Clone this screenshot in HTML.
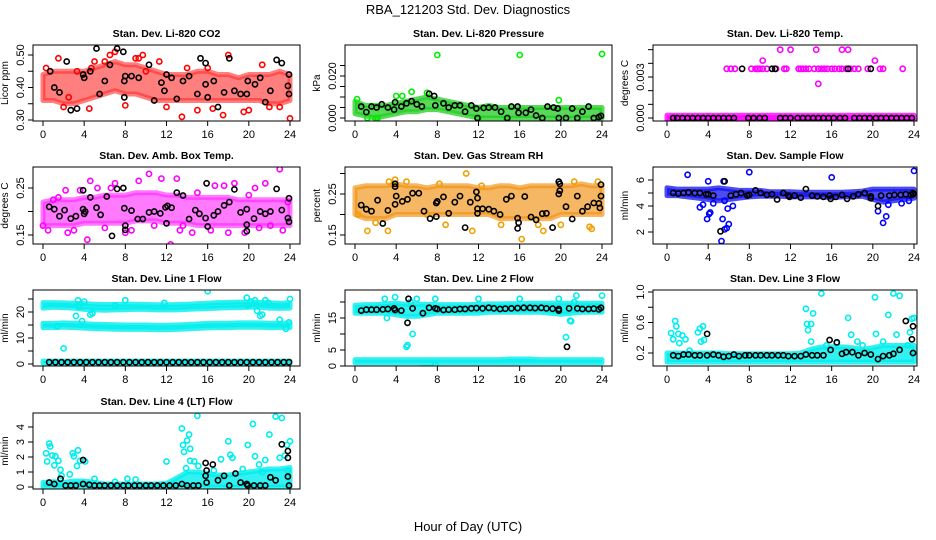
<!DOCTYPE html>
<html><head><meta charset="utf-8"><style>
html,body{margin:0;padding:0;background:#fff}
svg{display:block;font-family:"Liberation Sans",Arial,sans-serif}
</style></head><body>
<svg id="chart" width="936" height="540" viewBox="0 0 936 540" xmlns="http://www.w3.org/2000/svg">
<text x="468" y="14" text-anchor="middle" font-size="13">RBA_121203  Std. Dev. Diagnostics</text>
<text x="468" y="531" text-anchor="middle" font-size="13">Hour of Day (UTC)</text>
</svg>
<script>
const xTicks=[0,4,8,12,16,20,24];
// CO2
const co2Lo=[0.36,0.36,0.35,0.35,0.36,0.37,0.38,0.39,0.38,0.38,0.37,0.36,0.36,0.36,0.36,0.36,0.36,0.36,0.36,0.36,0.36,0.36,0.35,0.35,0.36];
const co2Hi=[0.44,0.45,0.45,0.45,0.45,0.46,0.47,0.48,0.47,0.47,0.46,0.45,0.44,0.44,0.44,0.45,0.45,0.44,0.44,0.43,0.44,0.44,0.44,0.45,0.44];
const co2Pts=[[1.5,0.49],[2,0.34],[4.5,0.335],[6.5,0.5],[7,0.51],[8,0.345],[9,0.49],[9.3,0.49],[11.3,0.48],[12,0.34],[13.5,0.31],[15,0.33],[16.5,0.335],[17.5,0.315],[18,0.5],[19.5,0.325],[20,0.33],[21.3,0.47],[22,0.34],[24,0.305],[0.3,0.46],[3.3,0.45],[10,0.45],[14,0.46],[6,0.48],[5,0.48],[23,0.34],[2.5,0.37],[16,0.46],[4.7,0.46],[9.7,0.5]];
const co2Blk=[[0.7,0.45],[1.1,0.4],[1.6,0.385],[2.3,0.48],[2.7,0.33],[3.3,0.335],[3.9,0.44],[4,0.43],[4.6,0.45],[5.2,0.52],[5.5,0.38],[6,0.42],[6.5,0.47],[7.2,0.52],[7.8,0.51],[7.9,0.42],[7.9,0.37],[8,0.435],[8.6,0.435],[9.3,0.43],[10.3,0.47],[10.8,0.36],[11.5,0.415],[11.8,0.39],[12,0.44],[12.5,0.43],[13,0.365],[13.6,0.42],[14.2,0.435],[15,0.38],[15.3,0.49],[15.8,0.475],[15.8,0.41],[16,0.37],[16.6,0.42],[17,0.34],[17.6,0.385],[18.1,0.49],[18.6,0.39],[19.2,0.38],[19.8,0.38],[19.9,0.42],[20.6,0.41],[21.1,0.43],[21.6,0.355],[22.1,0.39],[22.7,0.485],[23.2,0.475],[23.8,0.405],[23.9,0.44],[23.9,0.38]];
// Pressure
const prLo=[0.002,0.001,0,0.001,0.002,0.003,0.003,0.004,0.004,0.003,0.002,0.001,0,0,0,0,0,0,0,0,0,0,0,0,0];
const prHi=[0.008,0.006,0.006,0.006,0.007,0.008,0.009,0.01,0.009,0.008,0.007,0.006,0.005,0.006,0.005,0.005,0.005,0.005,0.005,0.005,0.005,0.005,0.005,0.005,0.005];
const prPts=[[8,0.03],[16,0.03],[24,0.0305],[5.5,0.0125],[4,0.0105],[4.6,0.0105],[7,0.012],[19.8,0.0085],[0.2,0.009],[1.2,0],[2,0],[2.2,0],[12,0],[14.7,0],[18.2,0],[21.6,0]];
const prBlk=[[0.6,0.0055],[1.1,0.0028],[1.6,0.0055],[2.1,0.005],[2.6,0.0065],[3.2,0.005],[3.8,0.004],[3.9,0.0075],[4.5,0.0055],[5,0.007],[5.5,0.008],[6,0.0065],[6.5,0.0055],[7.2,0.0115],[7.7,0.0105],[7.8,0.006],[8.6,0.007],[9.1,0.005],[9.7,0.006],[10.2,0.006],[10.7,0.003],[11.3,0.006],[11.8,0.0045],[11.9,0],[12.5,0.0048],[13,0.005],[13.6,0.005],[14.2,0.003],[14.8,0],[15.2,0.0055],[15.8,0.0055],[15.9,0.0025],[16.6,0.0025],[17.1,0.004],[17.6,0.0012],[18.2,0],[18.7,0.0055],[19.3,0.005],[19.7,0.0045],[19.8,0],[20.5,0],[21.1,0.0045],[21.6,0],[22.1,0.003],[22.7,0.0055],[23.2,0],[23.7,0.0005],[23.9,0.001]];
// Temp
const tLo=[-0.0002,-0.0002,-0.0002,-0.0002,-0.0002,-0.0002,-0.0002,-0.0002,-0.0002,-0.0002,-0.0002,-0.0002,-0.0002,-0.0002,-0.0002,-0.0002,-0.0002,-0.0002,-0.0002,-0.0002,-0.0002,-0.0002,-0.0002,-0.0002,-0.0002];
const tHi=[0.0002,0.0002,0.0002,0.0002,0.0002,0.0002,0.0002,0.0002,0.0002,0.0002,0.0002,0.0002,0.0002,0.0002,0.0002,0.0002,0.0002,0.0002,0.0002,0.0002,0.0002,0.0002,0.0002,0.0002,0.0002];
const tPts=[[5.8,0.0036],[6.2,0.0036],[6.6,0.0036],[8.2,0.0036],[8.6,0.0036],[8.8,0.0036],[9,0.0036],[9.3,0.0036],[9.7,0.0036],[10.6,0.0036],[11.4,0.0036],[11.6,0.0036],[12.8,0.0036],[13,0.0036],[13.2,0.0036],[13.5,0.0036],[13.8,0.0036],[14.3,0.0036],[14.7,0.0036],[15,0.0036],[15.3,0.0036],[15.6,0.0036],[16,0.0036],[16.3,0.0036],[16.7,0.0036],[17,0.0036],[17.4,0.0036],[17.8,0.0036],[18.2,0.0036],[18.6,0.0036],[19.5,0.0036],[20.7,0.0036],[21,0.0036],[22.9,0.0036],[11,0.005],[12,0.005],[14.5,0.005],[17,0.005],[17.6,0.005],[9.3,0.0042],[20.2,0.0042],[14.7,0.0025]];
const tBlk=[[7.3,0.0036],[10.2,0.0036],[10.5,0.0036],[17.6,0.0036],[19.8,0.0036],[0.6,0],[1,0],[1.5,0],[2,0],[2.5,0],[3,0],[3.5,0],[4,0],[4.5,0],[5,0],[5.5,0],[6,0],[6.5,0],[7.9,0],[8.4,0],[9,0],[9.5,0],[11,0],[11.5,0],[12,0],[12.7,0],[13.2,0],[13.7,0],[14.2,0],[14.7,0],[15.2,0],[15.7,0],[16.2,0],[16.8,0],[17.3,0],[18.2,0],[18.7,0],[19.2,0],[19.7,0],[20.3,0],[20.8,0],[21.3,0],[21.8,0],[22.3,0],[22.8,0],[23.3,0],[23.8,0]];
// Ambient box temp
const abLo=[0.17,0.17,0.17,0.17,0.175,0.175,0.175,0.175,0.175,0.18,0.18,0.18,0.175,0.175,0.175,0.17,0.17,0.17,0.17,0.17,0.17,0.17,0.17,0.17,0.17];
const abHi=[0.22,0.225,0.225,0.225,0.23,0.23,0.235,0.235,0.235,0.24,0.24,0.24,0.235,0.235,0.23,0.23,0.23,0.23,0.23,0.225,0.225,0.225,0.225,0.225,0.225];
const abPts=[[0,0.17],[0.5,0.16],[1,0.225],[1.5,0.23],[2.2,0.245],[2.4,0.155],[3,0.16],[3.6,0.245],[4.3,0.14],[4.6,0.265],[5.3,0.25],[6,0.165],[6.6,0.25],[7,0.26],[8,0.155],[8.6,0.16],[9.3,0.265],[10.3,0.28],[10.8,0.17],[11.5,0.27],[12.4,0.13],[13,0.27],[13.3,0.16],[13.6,0.17],[14.5,0.155],[15,0.24],[16.3,0.16],[16.7,0.255],[17.6,0.255],[18,0.155],[18.6,0.26],[19.6,0.155],[20,0.235],[20.6,0.25],[21,0.165],[21.6,0.26],[22.1,0.17],[23,0.29],[23.3,0.16],[23.8,0.22]];
const abBlk=[[0.6,0.21],[1.1,0.205],[1.6,0.19],[2.1,0.203],[2.7,0.185],[3.2,0.19],[3.9,0.245],[3.9,0.205],[4,0.195],[4.1,0.2],[4.6,0.23],[5.2,0.208],[5.6,0.193],[6.2,0.232],[6.7,0.148],[7.2,0.248],[7.8,0.25],[7.9,0.207],[8,0.17],[8,0.161],[8.6,0.202],[9.2,0.184],[9.7,0.184],[10.3,0.198],[10.8,0.2],[11.4,0.196],[11.9,0.209],[12,0.175],[12.1,0.212],[12.5,0.208],[13,0.24],[13.6,0.234],[14.2,0.184],[14.8,0.203],[15.2,0.195],[15.8,0.186],[15.9,0.26],[16,0.168],[16.6,0.192],[17,0.2],[17.6,0.213],[18.1,0.22],[18.6,0.247],[19.2,0.198],[19.8,0.205],[19.8,0.172],[19.8,0.158],[20.5,0.185],[21.1,0.2],[21.6,0.195],[22.1,0.2],[22.7,0.248],[23.2,0.203],[23.8,0.186],[23.9,0.178],[23.9,0.228]];
// Gas stream RH
const rhLo=[0.2,0.19,0.19,0.19,0.2,0.2,0.2,0.2,0.2,0.2,0.2,0.2,0.2,0.2,0.19,0.19,0.19,0.19,0.19,0.19,0.2,0.2,0.2,0.2,0.2];
const rhHi=[0.265,0.27,0.27,0.27,0.275,0.27,0.27,0.265,0.27,0.27,0.27,0.27,0.265,0.265,0.27,0.27,0.265,0.27,0.27,0.27,0.27,0.27,0.275,0.27,0.27];
const rhPts=[[1.2,0.16],[2,0.18],[3.2,0.16],[3.3,0.28],[3.9,0.285],[7,0.2],[8.2,0.275],[8.8,0.175],[10.8,0.3],[11.4,0.16],[12.3,0.27],[14.2,0.175],[16.2,0.14],[17.8,0.175],[18.3,0.16],[20,0.175],[21.3,0.28],[22.8,0.17],[23,0.165],[23.6,0.28],[0.3,0.2],[5,0.28]];
const rhBlk=[[0.6,0.223],[1.1,0.213],[1.6,0.208],[2.2,0.235],[2.7,0.178],[3.2,0.21],[3.9,0.275],[3.9,0.268],[3.9,0.225],[4,0.245],[4.6,0.232],[5.1,0.237],[5.6,0.252],[6.2,0.252],[6.7,0.208],[7.3,0.19],[7.9,0.195],[7.9,0.228],[8,0.232],[8.6,0.243],[9.1,0.203],[9.7,0.23],[10.2,0.245],[10.7,0.168],[11.2,0.23],[11.8,0.255],[11.9,0.214],[11.9,0.203],[11.9,0.24],[12.4,0.214],[13,0.213],[13.5,0.208],[14.1,0.2],[14.7,0.237],[15.2,0.245],[15.8,0.191],[15.9,0.18],[15.8,0.166],[16.5,0.244],[17.1,0.194],[17.6,0.187],[18.2,0.202],[18.6,0.203],[19.2,0.168],[19.8,0.28],[19.8,0.25],[19.9,0.275],[19.9,0.258],[20.5,0.219],[21.1,0.189],[21.6,0.245],[22.1,0.208],[22.6,0.219],[23.2,0.228],[23.7,0.227],[23.9,0.273],[23.9,0.245],[23.8,0.216]];
// Sample flow
const sfLo=[4.8,4.8,4.7,4.6,4.5,4.4,4.5,4.6,4.7,4.75,4.75,4.75,4.7,4.7,4.7,4.7,4.65,4.7,4.7,4.75,4.5,4.3,4.4,4.5,4.6];
const sfHi=[5.4,5.3,5.3,5.3,5.3,5.4,5.3,5.2,5.2,5.2,5.1,5.1,5.1,5.05,5.05,5.05,5.05,5.05,5.1,5.15,5.3,5.3,5.3,5.3,5.3];
const sfPts=[[2,6.4],[8,6.6],[16,6.2],[24,6.7],[5.5,5.9],[3.2,3.9],[3.5,4.1],[3.9,3],[4.1,3.4],[4.2,3.5],[4,5.9],[5.3,1.3],[5.4,3],[5.6,2.2],[5.8,2.3],[6,2.6],[5.9,3.8],[6.4,4],[20.5,3.6],[21,2.7],[21.3,3.2],[21.5,4.1],[22.8,4.2],[23.5,4.4],[5.6,4.4],[4.5,4.2]];
const sfBlk=[[0.6,5],[1.1,4.95],[1.6,5],[2.1,5.05],[2.7,5],[3.2,5],[3.8,4.9],[4,4.9],[4.5,4.8],[5.2,2.05],[5.6,5.9],[6.2,4.8],[6.7,4.9],[7.2,5],[7.8,4.8],[8,4.85],[8.6,5.2],[9.1,5],[9.7,4.85],[10.2,4.9],[10.7,4.5],[11.3,5],[11.8,4.8],[11.9,4.7],[12.4,4.8],[13,4.65],[13.5,5.3],[14.1,4.8],[14.6,4.75],[15.2,4.7],[15.8,4.8],[15.9,4.55],[16.4,4.7],[17,4.85],[17.5,4.55],[18.1,4.75],[18.6,4.9],[19.2,5],[19.8,4.6],[19.8,4.75],[20.5,4],[20.8,4.8],[21.6,4.8],[22.1,4.85],[22.7,4.85],[23.2,4.9],[23.7,4.85],[23.9,5],[23.9,4.9]];
// Line 1 flow
const l1UpLo=[21.5,21.8,21.7,21.5,21,20.8,20.7,20.8,20.9,21,21,20.8,20.8,20.8,21,21.2,21.3,21.5,21.6,21.7,21.8,21.8,21.5,21.4,21.5];
const l1UpHi=[23.6,23.6,23.5,23.4,23.2,23,22.9,22.9,23,23,22.9,22.8,22.8,22.9,23,23.2,23.4,23.6,23.7,23.8,23.8,23.7,23.5,23.4,23.5];
const l1MdLo=[14,14,14.2,14,13.8,13.6,13.5,13.4,13.3,13.3,13.3,13.2,13.2,13.3,13.5,13.7,13.9,14,14,14.1,14.1,14.1,14,14,14];
const l1MdHi=[15.6,15.6,15.8,15.7,15.5,15.3,15.2,15.1,15,15,15,14.9,14.9,15,15.2,15.4,15.6,15.7,15.7,15.8,15.8,15.8,15.7,15.7,15.7];
const l1BtLo=[0.3,0.3,0.3,0.3,0.3,0.3,0.3,0.3,0.3,0.3,0.3,0.3,0.3,0.3,0.3,0.3,0.3,0.3,0.3,0.3,0.3,0.3,0.3,0.3,0.3];
const l1BtHi=[1.1,1.1,1.1,1.1,1.1,1.1,1.1,1.1,1.1,1.1,1.1,1.1,1.1,1.1,1.1,1.1,1.1,1.1,1.1,1.1,1.1,1.1,1.1,1.1,1.1];
const l1Pts=[[2,6],[3.4,24.5],[4,24],[3.2,18.5],[3.5,22],[4.6,19],[4.8,19.5],[7,22.5],[8,24.5],[11.8,23.5],[16,28],[19.8,25.5],[20.2,24],[20.6,24.5],[21.1,18.5],[21.3,19],[21.6,24.5],[21.9,23.5],[20.8,20.5],[24,25],[23,17],[23.6,13.5],[23.9,16],[3.8,16.5],[1.4,14.5],[19.9,22.5]];
const l1Blk=[[0.6,0.7],[1.2,0.7],[1.8,0.7],[2.4,0.7],[3,0.7],[3.6,0.7],[4.2,0.7],[4.8,0.7],[5.4,0.7],[6,0.7],[6.6,0.7],[7.2,0.7],[7.8,0.7],[8.4,0.7],[9,0.7],[9.6,0.7],[10.2,0.7],[10.8,0.7],[11.4,0.7],[12,0.7],[12.6,0.7],[13.2,0.7],[13.8,0.7],[14.4,0.7],[15,0.7],[15.6,0.7],[16.2,0.7],[16.8,0.7],[17.4,0.7],[18,0.7],[18.6,0.7],[19.2,0.7],[19.8,0.7],[20.4,0.7],[21,0.7],[21.6,0.7],[22.2,0.7],[22.8,0.7],[23.4,0.7],[23.9,0.7]];
// Line 2 flow
const l2UpLo=[16.5,16.5,16.5,16.5,16,15.5,15.5,16,16.5,16.5,16.5,16.5,16.5,16.8,16.8,16.8,16.8,16.8,16.8,16.5,16.2,16.5,16.8,16.8,16.8];
const l2UpHi=[19,19.2,19.2,19.4,19.6,19.3,19.3,19.3,19.2,19.2,19.2,19.2,19.3,19.4,19.4,19.5,19.5,19.6,19.6,19.6,19.6,19.6,19.6,19.6,19.6];
const l2BtLo=[1,1,1,1,1,1,1,0.9,1,1,1,1,1,1,1,1,1,1,1,1,1,1,1,1,1];
const l2BtHi=[2,2,2,2,2,2,2,2,2,2,2,2,2,2,2,2.2,2.2,2.2,2,2,2,2,2,2,2];
const l2Pts=[[5,6],[5.1,6.5],[5.6,10],[7.8,0.3],[20.5,9],[21,14],[21.3,20],[21.5,22],[19.8,21],[5.4,20],[2.9,21],[3.9,21.5],[7.8,21],[12,21],[16,21],[24,22],[4,17.5],[3.1,15],[6,21],[20.9,14.2]];
const l2Blk=[[0.6,17.3],[1.1,17.6],[1.6,17.6],[2.1,17.6],[2.7,17.7],[3.2,17.8],[3.8,18],[3.9,17.5],[4.5,17.3],[5.1,13.5],[5.2,21],[5.6,18],[6.6,16.5],[7.2,18.2],[7.8,18],[8,17.8],[8.6,17.5],[9.1,17.6],[9.7,17.6],[10.2,17.8],[10.7,17.8],[11.3,18],[11.8,18.1],[12.4,18],[13,18.2],[13.5,18],[14.1,17.8],[14.6,17.9],[15.2,18],[15.8,18.1],[16.4,18.2],[17,18.2],[17.5,18.1],[18.1,18.2],[18.6,18],[19.2,17.9],[19.8,17.8],[19.8,17.3],[20.6,6],[20.8,18],[21.6,18],[22.1,17.8],[22.7,17.8],[23.2,17.9],[23.7,17.7],[23.9,18.2]];
// Line 3 flow
const l3Lo=[0.08,0.08,0.08,0.08,0.08,0.08,0.08,0.08,0.08,0.08,0.08,0.08,0.08,0.08,0.08,0.08,0.08,0.08,0.08,0.08,0.08,0.08,0.08,0.08,0.08];
const l3Hi=[0.2,0.2,0.2,0.2,0.2,0.2,0.19,0.19,0.19,0.19,0.19,0.19,0.19,0.2,0.25,0.28,0.28,0.28,0.27,0.25,0.27,0.3,0.3,0.3,0.3];
const l3Pts=[[0.4,0.46],[0.6,0.38],[0.8,0.62],[0.9,0.55],[1.1,0.45],[1.2,0.33],[1.5,0.43],[1.8,0.38],[2.2,0.23],[3,0.47],[3.2,0.52],[3.3,0.35],[3.5,0.55],[3.6,0.37],[13.5,0.78],[13.6,0.58],[13.7,0.5],[14,0.58],[14.2,0.72],[15,0.98],[14,0.35],[17.6,0.66],[17.9,0.44],[19,0.3],[20.2,0.93],[20.3,0.45],[21.5,0.7],[22,0.98],[22.3,0.44],[22.6,0.95],[23.6,0.47],[23.8,0.65],[24,0.66],[23.4,0.3],[21,0.35],[16.5,0.33],[15.5,0.3],[18.5,0.35]];
const l3Blk=[[0.6,0.17],[1.1,0.16],[1.6,0.18],[2.1,0.18],[2.7,0.17],[3.2,0.17],[3.9,0.45],[3.9,0.17],[4.5,0.18],[5,0.17],[5.5,0.15],[6,0.16],[6.5,0.18],[7,0.16],[7.6,0.17],[8,0.17],[8.6,0.17],[9.1,0.17],[9.7,0.17],[10.2,0.17],[10.8,0.17],[11.3,0.17],[11.8,0.16],[12.4,0.16],[13,0.16],[13.5,0.18],[14.1,0.17],[14.6,0.17],[15.2,0.17],[15.8,0.37],[15.9,0.24],[16.5,0.34],[17,0.19],[17.4,0.21],[18,0.21],[18.6,0.17],[19.2,0.2],[19.8,0.18],[20.5,0.12],[21,0.16],[21.6,0.17],[22,0.19],[22.6,0.24],[23.2,0.62],[23.9,0.55],[23.8,0.38],[23.9,0.2]];
// Line 4 flow
const l4Lo=[0,0,0,0,0,0,0,0,0,0,0,0,0,0,0,0,0,0,0,0,0,0,0,0,0];
const l4Hi=[0.3,0.35,0.3,0.4,0.4,0.3,0.2,0.2,0.2,0.2,0.2,0.2,0.25,0.6,1,1,0.9,0.8,0.8,0.9,1,1.1,1.2,1.2,1.3];
const l4Pts=[[0.3,2.25],[0.4,1.7],[0.6,2.9],[0.7,2.7],[0.9,2.1],[1.1,1.45],[1.2,2.05],[1.5,1.75],[1.7,1.15],[1.8,0.75],[2.6,0.85],[2.9,2.25],[3,2.05],[3.3,1.4],[3.4,2.45],[3.6,1.75],[4.1,1.7],[5,0.55],[7,0.35],[8.2,0.55],[9,0.5],[12,1.7],[13.5,3.9],[13.6,2.8],[13.7,2.35],[13.9,1.25],[14,3.1],[14.2,3.5],[14.3,2.55],[14.3,1.75],[14.7,1.7],[15,4.75],[15.1,1.4],[16.6,1.1],[17.3,1.85],[18,3.05],[18.2,2.15],[18.4,1.95],[19.9,2.8],[20.4,4.2],[20.6,2.05],[21,1.5],[21.6,1.8],[22,3.5],[22.6,4.7],[23,1.95],[23.2,4.6],[23.5,2.1],[23.7,2.8],[24,3.05],[23.8,1.1],[19.4,1.2],[21.3,1]];
const l4Blk=[[0.6,0.3],[1.1,0.2],[1.7,0.55],[2.2,0.1],[2.7,0.1],[3.2,0.1],[3.9,1.8],[3.9,0.2],[4.5,0.15],[5,0.1],[5.5,0.1],[6,0.1],[6.6,0.1],[7.2,0.1],[7.8,0.1],[8.3,0.1],[8.9,0.1],[9.4,0.1],[10,0.1],[10.5,0.1],[11.1,0.1],[11.7,0.1],[12.3,0.1],[12.9,0.1],[13.5,0.2],[14,0.1],[14.6,0.1],[15.1,0.1],[15.8,1.6],[15.9,1.1],[15.8,0.75],[15.9,0.3],[16.5,1.5],[17,0.45],[17.6,0.75],[18.1,0.1],[18.7,0.9],[19.2,0.3],[19.8,0.2],[19.9,0.1],[20.5,0.1],[21.1,0.1],[21.6,0.1],[22.1,0.65],[22.6,0.45],[23.2,2.85],[23.8,2.4],[23.8,1.95],[23.8,0.7],[23.9,0.1]];

const NS="http://www.w3.org/2000/svg";
const svg=document.getElementById('chart');
function mk(tag,attrs,parent){const e=document.createElementNS(NS,tag);for(const k in attrs)e.setAttribute(k,attrs[k]);(parent||svg).appendChild(e);return e;}

const cols=[{bl:33,br:300,x0:43,x24:290},{bl:345,br:612,x0:355,x24:602},{bl:653,br:917,x0:667,x24:914}];
const rows=[{t:45,b:121},{t:167,b:244},{t:290,b:366},{t:413,b:489}];

const panels=[
 {name:'co2',title:'Stan. Dev. Li-820 CO2',ylab:'Licor ppm',c:0,r:0,v1:0.30,p1:120,v2:0.50,p2:55,ticks:[0.30,0.35,0.40,0.45,0.50],labels:[[0.30,'0.30'],[0.40,'0.40'],[0.50,'0.50']],col:'#ff0000',fill:'#ff2a2a',op:0.6,bands:[[co2Lo,co2Hi]],pts:co2Pts,blk:co2Blk},
 {name:'pressure',title:'Stan. Dev. Li-820 Pressure',ylab:'kPa',c:1,r:0,v1:0,p1:118,v2:0.02,p2:76,ticks:[0,0.005,0.01,0.015,0.02,0.025],labels:[[0,'0.000'],[0.02,'0.020']],col:'#00ee00',fill:'#22cc22',op:0.75,bands:[[prLo,prHi]],pts:prPts,blk:prBlk},
 {name:'temp',title:'Stan. Dev. Li-820 Temp.',ylab:'degrees C',c:2,r:0,v1:0,p1:118,v2:0.003,p2:77,ticks:[0,0.001,0.002,0.003,0.004,0.005],labels:[[0,'0.000'],[0.003,'0.003']],col:'#ff00ff',fill:'#ff00ff',op:0.8,bands:[[tLo,tHi]],pts:tPts,blk:tBlk},
 {name:'amb-box-temp',title:'Stan. Dev. Amb. Box Temp.',ylab:'degrees C',c:0,r:1,v1:0.15,p1:235,v2:0.25,p2:188,ticks:[0.15,0.2,0.25],labels:[[0.15,'0.15'],[0.25,'0.25']],col:'#ff00ff',fill:'#ff22ff',op:0.6,bands:[[abLo,abHi]],pts:abPts,blk:abBlk},
 {name:'gas-stream-rh',title:'Stan. Dev. Gas Stream RH',ylab:'percent',c:1,r:1,v1:0.15,p1:235,v2:0.25,p2:194,ticks:[0.15,0.2,0.25,0.3],labels:[[0.15,'0.15'],[0.25,'0.25']],col:'#f0a000',fill:'#f09010',op:0.65,bands:[[rhLo,rhHi]],pts:rhPts,blk:rhBlk},
 {name:'sample-flow',title:'Stan. Dev. Sample Flow',ylab:'ml/min',c:2,r:1,v1:2,p1:232,v2:6,p2:180,ticks:[2,3,4,5,6],labels:[[2,'2'],[4,'4'],[6,'6']],col:'#0000ff',fill:'#1010ee',op:0.75,bands:[[sfLo,sfHi]],pts:sfPts,blk:sfBlk},
 {name:'line1-flow',title:'Stan. Dev. Line 1 Flow',ylab:'ml/min',c:0,r:2,v1:0,p1:364,v2:20,p2:312,ticks:[0,5,10,15,20,25],labels:[[0,'0'],[10,'10'],[20,'20']],col:'#00eeee',fill:'#00eeee',op:0.8,bands:[[l1UpLo,l1UpHi],[l1MdLo,l1MdHi],[l1BtLo,l1BtHi]],pts:l1Pts,blk:l1Blk},
 {name:'line2-flow',title:'Stan. Dev. Line 2 Flow',ylab:'ml/min',c:1,r:2,v1:0,p1:366,v2:15,p2:318,ticks:[0,5,10,15,20],labels:[[0,'0'],[5,'5'],[15,'15']],col:'#00eeee',fill:'#00eeee',op:0.8,bands:[[l2UpLo,l2UpHi],[l2BtLo,l2BtHi]],pts:l2Pts,blk:l2Blk},
 {name:'line3-flow',title:'Stan. Dev. Line 3 Flow',ylab:'ml/min',c:2,r:2,v1:0.2,p1:353,v2:1.0,p2:292,ticks:[0.2,0.4,0.6,0.8,1.0],labels:[[0.2,'0.2'],[0.6,'0.6'],[1.0,'1.0']],col:'#00eeee',fill:'#00eeee',op:0.8,bands:[[l3Lo,l3Hi]],pts:l3Pts,blk:l3Blk},
 {name:'line4-flow',title:'Stan. Dev. Line 4 (LT) Flow',ylab:'ml/min',c:0,r:3,v1:0,p1:487,v2:4,p2:427,ticks:[0,1,2,3,4],labels:[[0,'0'],[1,'1'],[2,'2'],[3,'3'],[4,'4']],col:'#00eeee',fill:'#00eeee',op:0.8,bands:[[l4Lo,l4Hi]],pts:l4Pts,blk:l4Blk}
];

panels.forEach(p=>{
  const C=cols[p.c],R=rows[p.r];
  const xs=v=>C.x0+(C.x24-C.x0)*v/24;
  const ys=v=>p.p1+(p.p2-p.p1)*(v-p.v1)/(p.v2-p.v1);
  const g=mk('g',{});
  
  
  const cp='clip-'+p.name;
  const cl=mk('clipPath',{id:cp},g);mk('rect',{x:C.bl,y:R.t,width:C.br-C.bl,height:R.b-R.t},cl);
  const plot=mk('g',{'clip-path':'url(#'+cp+')'},g);
  
  
  p.bands.forEach(b=>{
    let d='';
    b[1].forEach((v,i)=>{d+=(i?'L':'M')+xs(i).toFixed(1)+','+ys(v).toFixed(1);});
    for(let i=b[0].length-1;i>=0;i--)d+='L'+xs(i).toFixed(1)+','+ys(b[0][i]).toFixed(1);
    const e=mk('path',{d:d+'Z',fill:p.fill,stroke:p.fill,'stroke-width':5,'stroke-linejoin':'round','fill-opacity':p.op,'stroke-opacity':p.op},plot);
    
    
  });
  p.pts.forEach(q=>{
    const e=mk('circle',{cx:xs(q[0]).toFixed(1),cy:ys(q[1]).toFixed(1),r:2.6,fill:'none',stroke:p.col,'stroke-width':1.6},plot);
    
    
  });
  p.blk.forEach(q=>{
    const e=mk('circle',{cx:xs(q[0]).toFixed(1),cy:ys(q[1]).toFixed(1),r:2.6,fill:'none',stroke:'#000','stroke-width':1.6},plot);
    
    
  });
  const box=mk('rect',{x:C.bl,y:R.t,width:C.br-C.bl,height:R.b-R.t,fill:'none',stroke:'#000','stroke-width':1},g);
  
  
  const t=mk('text',{x:(C.bl+C.br)/2,y:R.t-8,'text-anchor':'middle','font-size':10.5,'font-weight':'bold'},g);
  t.textContent=p.title;
  
  
  mk('line',{x1:xs(0),x2:xs(24),y1:R.b,y2:R.b,stroke:'#000'},g);
  xTicks.forEach(v=>{
    mk('line',{x1:xs(v),x2:xs(v),y1:R.b,y2:R.b+5,stroke:'#000'},g);
    const e=mk('text',{x:xs(v),y:R.b+17,'text-anchor':'middle','font-size':11},g);
    e.textContent=v;
    
    
  });
  mk('line',{x1:C.bl,x2:C.bl,y1:ys(p.ticks[0]),y2:ys(p.ticks[p.ticks.length-1]),stroke:'#000'},g);
  p.ticks.forEach(v=>{mk('line',{x1:C.bl-5,x2:C.bl,y1:ys(v),y2:ys(v),stroke:'#000'},g);});
  p.labels.forEach(l=>{
    const yy=ys(l[0]),xx=C.bl-9;
    const e=mk('text',{x:xx,y:yy,'text-anchor':'middle','font-size':11,transform:'rotate(-90 '+xx+' '+yy+')'},g);
    e.textContent=l[1];
    
    
  });
  const ly=(R.t+R.b)/2,lx=C.bl-25;
  const yl=mk('text',{x:lx,y:ly,'text-anchor':'middle','font-size':10,transform:'rotate(-90 '+lx+' '+ly+')'},g);
  yl.textContent=p.ylab;
  
  
});
</script>
</body></html>
